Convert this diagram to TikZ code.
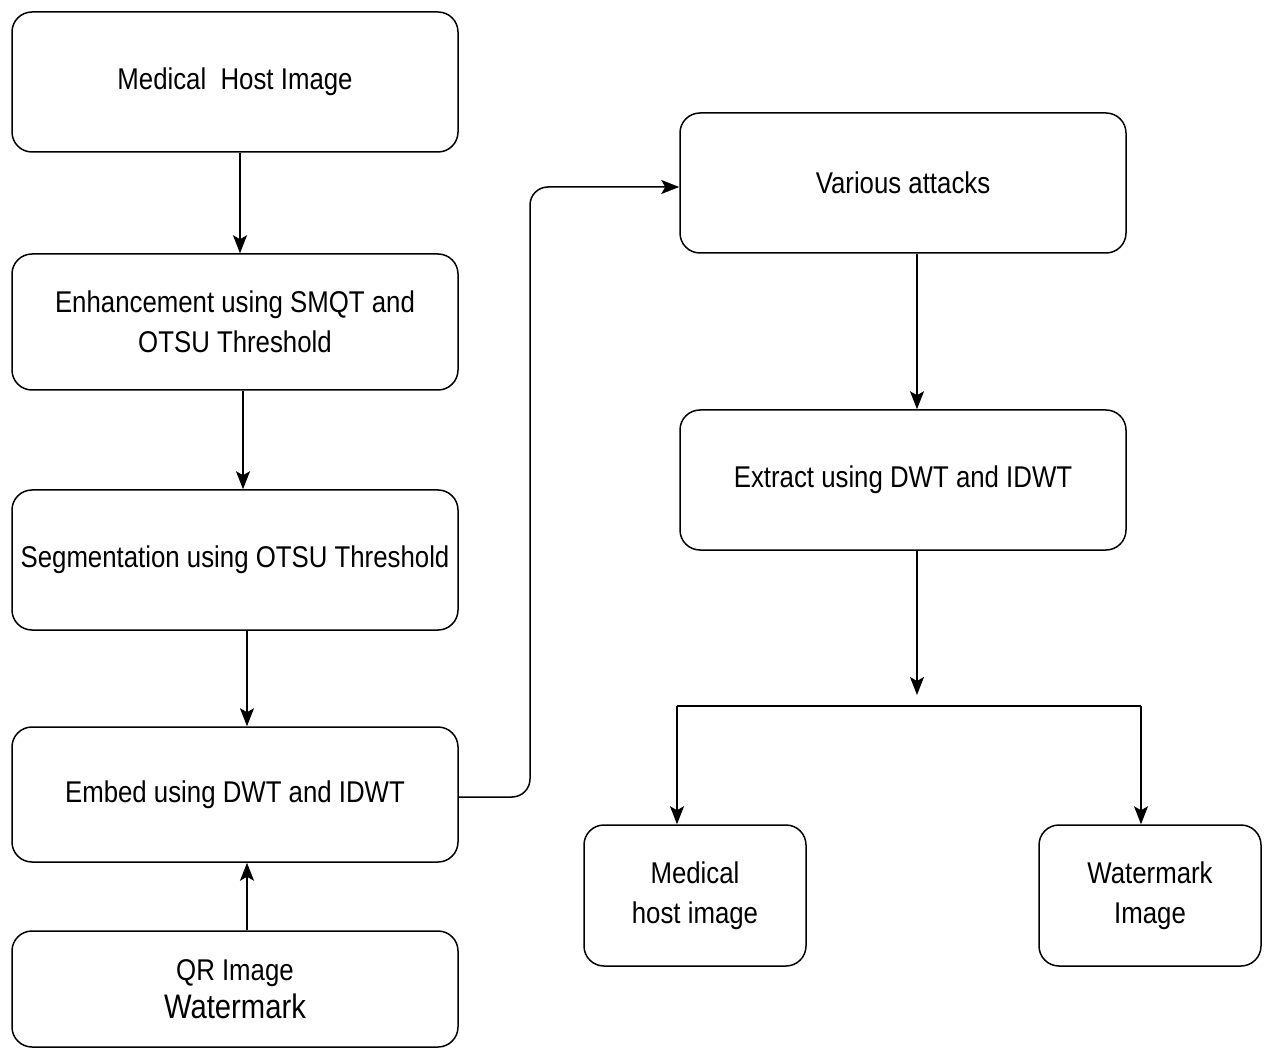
\documentclass[tikz,border=0pt]{standalone}
\usepackage{fontspec}
\setmainfont{Liberation Sans}[FakeStretch=0.86]
\usetikzlibrary{arrows.meta}
\begin{document}
\begin{tikzpicture}[x=1pt,y=-1pt,
  box/.style={draw, line width=1.5pt, rounded corners=20pt, align=center,
    font=\fontsize{30}{40}\selectfont, inner sep=0pt},
  lbox/.style={box, minimum width=446pt, minimum height=140pt},
  sbox/.style={box, minimum width=222pt, minimum height=141pt},
  arr/.style={-{Stealth[length=18pt,width=14pt,inset=4pt]}, line width=1.5pt}]
\useasboundingbox (0,0) rectangle (1267,1048);
\node[lbox] (host) at (235,82) {Medical\ \ Host Image};
\node[lbox, minimum height=136pt] (enh) at (235,322) {Enhancement using SMQT and\\OTSU Threshold};
\node[lbox] (seg) at (235,560) {Segmentation using OTSU Threshold};
\node[lbox, minimum height=135pt] (emb) at (235,794.5) {Embed using DWT and IDWT};
\node[lbox, minimum height=116pt] (qr) at (235,989) {QR Image\\[-2pt]{\fontsize{34}{40}\selectfont Watermark}};
\node[lbox] (att) at (903,183) {Various attacks};
\node[lbox] (ext) at (903,480) {Extract using DWT and IDWT};
\node[sbox] (mhi) at (695,895.5) {Medical\\host image};
\node[sbox] (wmi) at (1150,895.5) {Watermark\\Image};
\coordinate (j) at (917,695);
\coordinate (jl) at (677,706);
\coordinate (jr) at (1141,706);
\draw[arr] (host.south -| 240,0) -- (enh.north -| 240,0);
\draw[arr] (enh.south -| 243,0) -- (seg.north -| 243,0);
\draw[arr] (seg.south -| 247,0) -- (emb.north -| 247,0);
\draw[arr] (qr.north -| 247,0) -- (emb.south -| 247,0);
\draw[arr, rounded corners=18pt] (emb.east |- 0,797) -| (530,187) -- (att.west |- 0,187);
\draw[arr] (att.south -| 917,0) -- (ext.north -| 917,0);
\draw[arr] (ext.south -| 917,0) -- (j);
\draw[line width=1.5pt] (jl) -- (jr);
\draw[arr] (jl) -- (mhi.north -| jl);
\draw[arr] (jr) -- (wmi.north -| jr);
\end{tikzpicture}
\end{document}
